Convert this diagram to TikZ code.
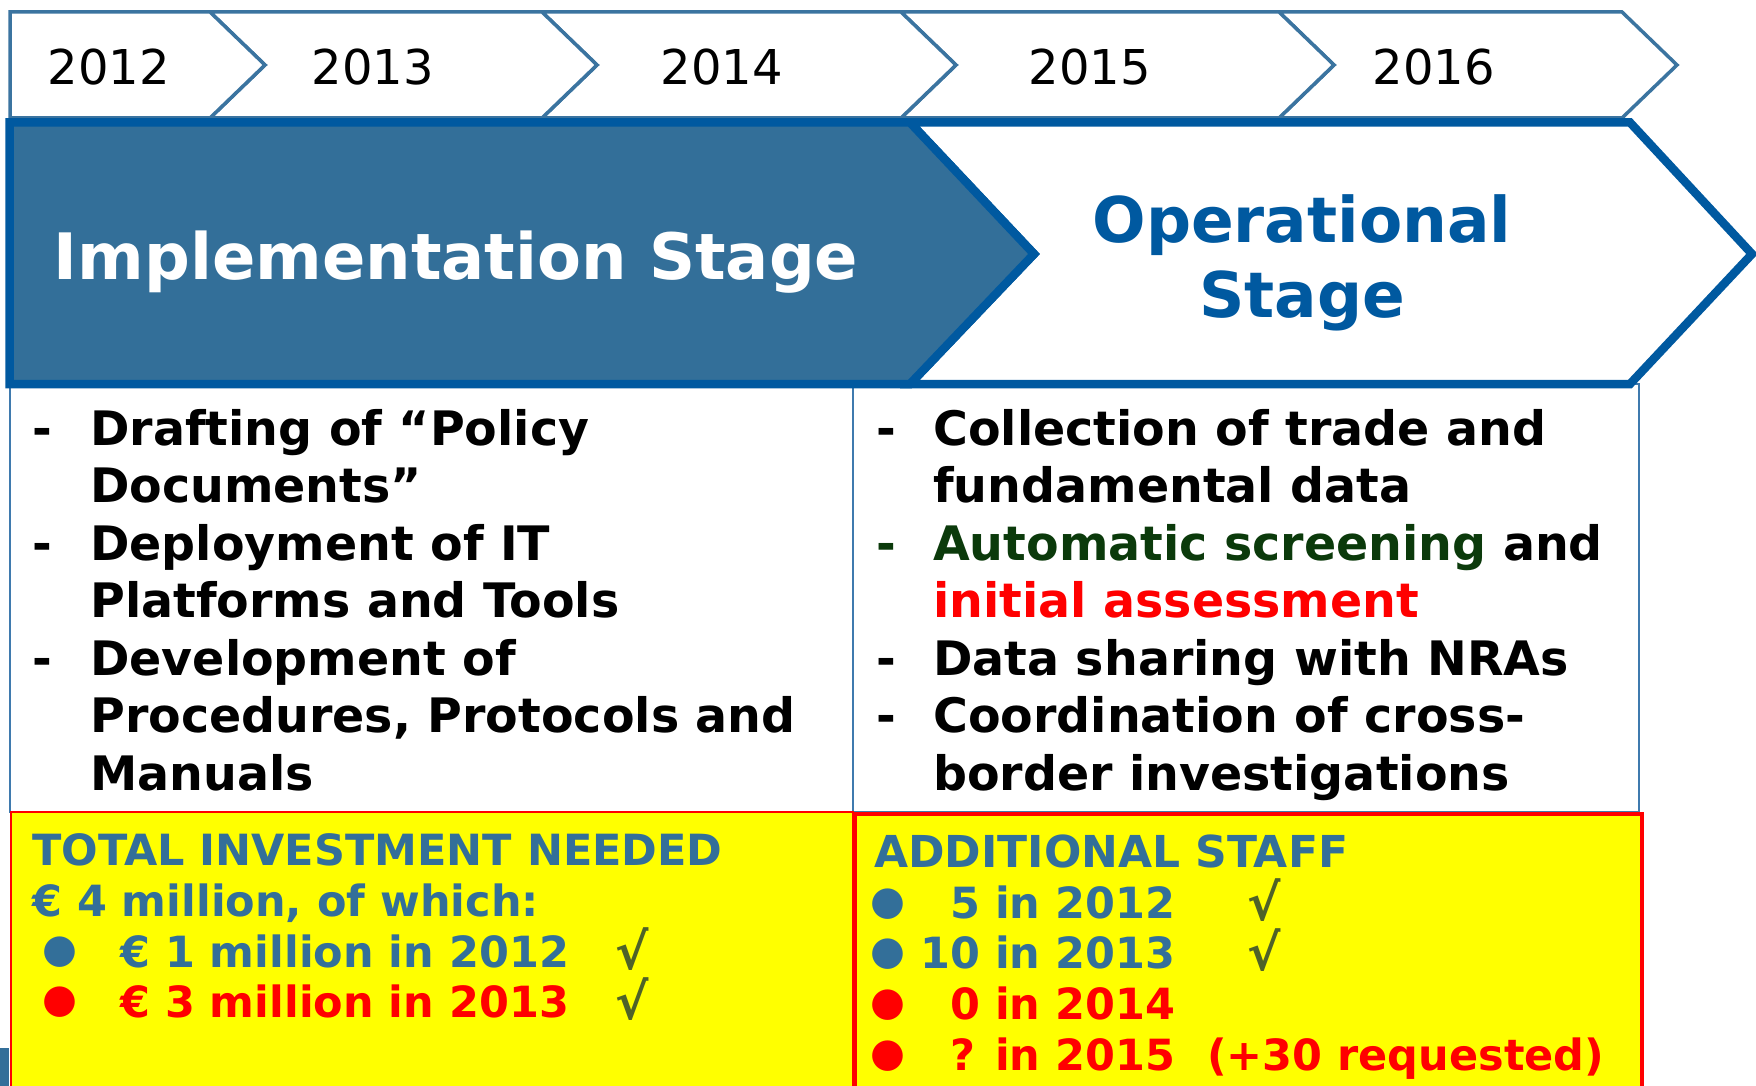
\documentclass[tikz,border=0pt]{standalone}
\usepackage{fontspec}
\setmainfont{DejaVu Sans}
\definecolor{bandblue}{HTML}{0059A0}
\definecolor{implblue}{HTML}{336F99}
\definecolor{yearline}{HTML}{3B74A0}
\definecolor{boxline}{HTML}{3F7AAE}
\definecolor{txtblue}{HTML}{336F99}
\definecolor{chkgreen}{HTML}{4F6228}
\definecolor{autogreen}{HTML}{0B3A0B}
\definecolor{hiyellow}{HTML}{FFFF00}
\definecolor{hired}{HTML}{FF0000}
\newcommand\firststrut{\rule{0pt}{40pt}}
\newcommand\bigstrut{\rule{0pt}{52pt}}
\begin{document}
\begin{tikzpicture}[x=1pt,y=-1pt,
  yearbox/.style={draw=yearline,line width=3.5pt,fill=white,line join=miter},
  yeartxt/.style={font=\fontsize{48}{58}\selectfont,text=black,inner sep=0pt,anchor=base},
  bandshape/.style={draw=bandblue,line width=8.5pt,line join=miter},
  contentbox/.style={draw=boxline,line width=1.5pt,fill=white},
  itemtxt/.style={font=\fontsize{47.5}{57.5}\selectfont\bfseries,align=left,inner sep=0pt,anchor=north west},
  dashtxt/.style={font=\fontsize{47.5}{57.5}\selectfont\bfseries,inner sep=0pt,anchor=base west},
  ylwtxt/.style={font=\fontsize{43}{51}\selectfont\bfseries,inner sep=0pt,anchor=base west},
  bul/.style={font=\fontsize{40}{40}\selectfont,inner sep=0pt},
  chk/.style={font=\fontsize{50}{50}\selectfont\bfseries,text=chkgreen,inner sep=0pt,anchor=base west},
]
\useasboundingbox (0,0) rectangle (1756,1086);
\fill[white] (0,0) rectangle (1756,1086);

% content boxes
\draw[contentbox] (10,384) rectangle (853,812);
\draw[contentbox] (853,384) rectangle (1639,812);

% yellow boxes
\draw[draw=hired,line width=2pt,fill=hiyellow] (11,812) rectangle (853,1092);
\draw[draw=hired,line width=4pt,fill=hiyellow] (855,814) rectangle (1642,1092);
\fill[implblue] (0,1048) rectangle (9,1086);

% year chevrons
\draw[yearbox] (1279,12) -- (1622,12) -- (1677,65) -- (1622,118) -- (1279,118) -- (1334,65) -- cycle;
\draw[yearbox] (901,12) -- (1279,12) -- (1334,65) -- (1279,118) -- (901,118) -- (956,65) -- cycle;
\draw[yearbox] (542,12) -- (901,12) -- (956,65) -- (901,118) -- (542,118) -- (597,65) -- cycle;
\draw[yearbox] (210,12) -- (542,12) -- (597,65) -- (542,118) -- (210,118) -- (265,65) -- cycle;
\draw[yearbox] (10,12) -- (210,12) -- (265,65) -- (210,118) -- (10,118) -- cycle;
\node[yeartxt] (y2012) at (109,85) {2012};
\node[yeartxt] (y2013) at (373,85) {2013};
\node[yeartxt] (y2014) at (722,85) {2014};
\node[yeartxt] (y2015) at (1090,85) {2015};
\node[yeartxt] (y2016) at (1434,85) {2016};

% stage band
\draw[bandshape,fill=white] (910,122.5) -- (1630,122.5) -- (1752,254) -- (1630,384) -- (910,384) -- (1034,254) -- cycle;
\draw[bandshape,fill=implblue] (9.5,122.5) -- (910,122.5) -- (1034,254) -- (910,384) -- (9.5,384) -- cycle;
\node[font=\fontsize{64}{75}\selectfont\bfseries,text=white,inner sep=0pt,anchor=base] (impl) at (456,279) {Implementation Stage};
\node[font=\fontsize{63}{75}\selectfont\bfseries,text=bandblue,inner sep=0pt,align=center,anchor=north] (oper) at (1302,190) {\bigstrut Operational\\Stage};

% left items
\node[dashtxt] (ld1) at (32,445) {-};
\node[itemtxt] (li1) at (90,405) {\firststrut Drafting of “Policy\\Documents”};
\node[dashtxt] (ld2) at (32,560) {-};
\node[itemtxt] (li2) at (90,520) {\firststrut Deployment of IT\\Platforms and Tools};
\node[dashtxt] (ld3) at (32,675) {-};
\node[itemtxt] (li3) at (90,635) {\firststrut Development of\\Procedures, Protocols and\\Manuals};

% right items
\node[dashtxt] (rd1) at (876,445) {-};
\node[itemtxt] (ri1) at (933,405) {\firststrut Collection of trade and\\fundamental data};
\node[dashtxt,text=autogreen] (rd2) at (876,560) {-};
\node[itemtxt] (ri2) at (933,520) {\firststrut\textcolor{autogreen}{Automatic screening} and\\\textcolor{hired}{initial assessment}};
\node[dashtxt] (rd3) at (876,675) {-};
\node[itemtxt] (ri3) at (933,635) {\firststrut Data sharing with NRAs};
\node[dashtxt] (rd4) at (876,732.5) {-};
\node[itemtxt] (ri4) at (933,692.5) {\firststrut Coordination of cross-\\border investigations};

% left yellow text
\node[ylwtxt,text=txtblue] (tin) at (32,865) {TOTAL INVESTMENT NEEDED};
\node[ylwtxt,text=txtblue] (tot) at (32,916) {€ 4 million, of which:};
\node[bul,text=txtblue] (lb1) at (60,952) {●};
\node[ylwtxt,text=txtblue] (lm1) at (120,967) {€ 1 million in 2012};
\node[chk] (lc1) at (615,969) {√};
\node[bul,text=hired] (lb2) at (60,1002) {●};
\node[ylwtxt,text=hired] (lm2) at (120,1017) {€ 3 million in 2013};
\node[chk] (lc2) at (615,1019) {√};

% right yellow text
\node[ylwtxt,text=txtblue,font=\fontsize{44}{51}\selectfont\bfseries] (ast) at (874,867) {ADDITIONAL STAFF};
\node[bul,text=txtblue] (rb1) at (888,904) {●};
\node[ylwtxt,text=txtblue] (rs1) at (950,918) {5 in 2012};
\node[chk] (rc1) at (1247,920) {√};
\node[bul,text=txtblue] (rb2) at (888,954) {●};
\node[ylwtxt,text=txtblue] (rs2) at (920,968) {10 in 2013};
\node[chk] (rc2) at (1247,970) {√};
\node[bul,text=hired] (rb3) at (888,1005) {●};
\node[ylwtxt,text=hired] (rs3) at (950,1019) {0 in 2014};
\node[bul,text=hired] (rb4) at (888,1056) {●};
\node[ylwtxt,text=hired] (rs4) at (950,1070) {? in 2015\hspace{32pt}(+30 requested)};
\end{tikzpicture}
\end{document}
